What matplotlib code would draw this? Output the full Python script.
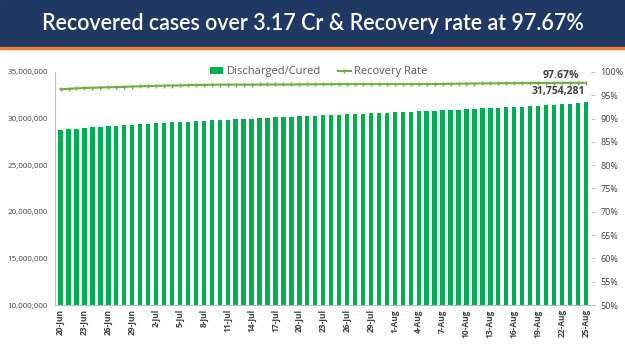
import matplotlib.pyplot as plt
import numpy as np
import pandas as pd

# data
dates = pd.date_range('2021-06-20', '2021-08-25', freq='D')
labels = [f'{d.day}-{d.strftime("%b")}' for d in dates]

cured = [28766009, 28843825, 28927000, 28994000, 29058000, 29128000, 29185000,
         29242000, 29293000, 29352000, 29402000, 29448000, 29497000, 29544000,
         29588000, 29628000, 29674000, 29710000, 29758000, 29801000, 29843000,
         29885000, 29922000, 29963000, 30003000, 30043000, 30080000, 30116000,
         30156000, 30195000, 30235000, 30271000, 30308000, 30343000, 30378000,
         30410000, 30443000, 30480000, 30518000, 30554000, 30590000, 30629000,
         30663000, 30703000, 30743000, 30780000, 30810000, 30850000, 30888000,
         30927000, 30969000, 31010000, 31051000, 31090000, 31130000, 31170000,
         31206000, 31240000, 31280000, 31320000, 31370000, 31420000, 31480000,
         31540000, 31590000, 31640000, 31754281]

rate = [96.30, 96.36, 96.49, 96.56, 96.61, 96.66, 96.72, 96.75, 96.80, 96.87,
        96.92, 96.97, 97.01, 97.06, 97.09, 97.11, 97.17, 97.20, 97.22, 97.25,
        97.28, 97.28, 97.29, 97.28, 97.28, 97.31, 97.31, 97.31, 97.31, 97.31,
        97.33, 97.35, 97.36, 97.37, 97.37, 97.38, 97.38, 97.39, 97.40, 97.39,
        97.39, 97.39, 97.39, 97.39, 97.39, 97.40, 97.40, 97.40, 97.42, 97.45,
        97.48, 97.51, 97.52, 97.54, 97.55, 97.57, 97.58, 97.60, 97.61, 97.62,
        97.63, 97.64, 97.65, 97.66, 97.66, 97.67, 97.67]

bar_green = '#00B050'
line_green = '#70AD47'
navy = '#1F3864'

plt.rcParams['font.family'] = ['Open Sans', 'DejaVu Sans']

fig = plt.figure(figsize=(6.25, 3.51), dpi=100)

# title banner
fig.patches.append(plt.Rectangle((0, 0.866), 1, 0.134, transform=fig.transFigure,
                                 color=navy, zorder=0))
fig.patches.append(plt.Rectangle((0, 0.859), 1, 0.007, transform=fig.transFigure,
                                 color='#ED7D31', zorder=0))
fig.text(0.5, 0.932, 'Recovered cases over 3.17 Cr & Recovery rate at 97.67%',
         ha='center', va='center', color='white', fontsize=15.5, fontweight='semibold',
         family=['Lato', 'DejaVu Sans'])

ax = fig.add_axes([0.088, 0.131, 0.857, 0.664])
x = np.arange(len(cured))
ax.bar(x, cured, width=0.55, color=bar_green, label='Discharged/Cured')
ax.set_ylim(10_000_000, 35_000_000)
ax.set_xlim(-0.7, len(cured) - 0.4)
ax.set_yticks(np.arange(10_000_000, 35_000_001, 5_000_000))
ax.yaxis.set_major_formatter(plt.FuncFormatter(lambda v, p: f'{v:,.0f}'))
ax.set_xticks(x[::3])
ax.set_xticklabels(labels[::3], rotation=90, fontsize=6, fontweight='bold', color='#404040')
ax.tick_params(axis='y', labelsize=5.8, length=0, colors='#404040', pad=5)
ax.tick_params(axis='x', length=0, pad=3)
for s in ['top', 'right']:
    ax.spines[s].set_visible(False)
ax.spines['left'].set_color('#BFBFBF')
ax.spines['bottom'].set_color('#BFBFBF')

ax2 = ax.twinx()
ax2.plot(x, rate, color=line_green, lw=1.5, marker='|', ms=3, mew=1,
         label='Recovery Rate')
ax2.set_ylim(50, 100)
ax2.set_yticks(np.arange(50, 101, 5))
ax2.set_yticklabels([f'{v}%' for v in range(50, 101, 5)])
ax2.tick_params(axis='y', labelsize=6.5, colors='#404040', length=3, pad=4)
ax2.tick_params(axis='y', color='#BFBFBF')
for s in ['top', 'right', 'left', 'bottom']:
    ax2.spines[s].set_visible(False)

# annotations
ax2.annotate(f'{rate[-1]:.2f}%', xy=(x[-1], rate[-1]), xytext=(x[-1] - 3.2, 99.3),
             ha='center', va='center', fontsize=7.5, fontweight='bold', color='#404040',
             arrowprops=dict(arrowstyle='-', color='#A6A6A6', lw=0.6))
ax.text(x[-1] - 3.4, 32_900_000, f'{cured[-1]:,}', ha='center', va='center',
        fontsize=7.5, fontweight='bold', color='#404040')

h1, l1 = ax.get_legend_handles_labels()
h2, l2 = ax2.get_legend_handles_labels()
fig.legend(h1 + h2, l1 + l2, loc='center', bbox_to_anchor=(0.51, 0.795), ncol=2,
           frameon=False, fontsize=8, handlelength=1.2, handletextpad=0.3,
           columnspacing=1.5, labelcolor='#595959')

fig.savefig('out.png', dpi=100)
